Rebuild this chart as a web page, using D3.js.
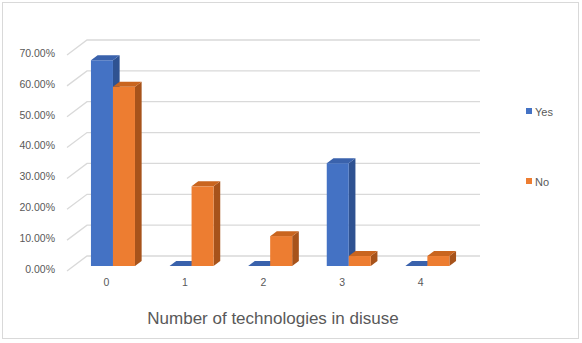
<!DOCTYPE html>
<html>
<head>
<meta charset="utf-8">
<script src="https://cdn.jsdelivr.net/npm/d3@7"></script>
<style>
  body { margin: 0; background: #fff; }
  text { font-family: "Liberation Sans", Arial, sans-serif; fill: #595959; }
  .axis .domain { display: none; }
  .axis .tick line { display: none; }
</style>
</head>
<body>
<div id="chart"></div>
<script>
var categories = ['0', '1', '2', '3', '4'];
var seriesNames = ['Yes', 'No'];
var yesValues = [0.6667, 0, 0, 0.3333, 0];
var noValues = [0.5806, 0.2581, 0.0968, 0.0323, 0.0323];
var yTicks = [0, 0.1, 0.2, 0.3, 0.4, 0.5, 0.6, 0.7];

var width = 582, height = 343;
var depthX = 20, depthY = 15;   // full floor depth
var colors = {
  Yes: { front: '#4472C4', top: '#3A62AC', side: '#2F5291' },
  No:  { front: '#ED7D31', top: '#C9651F', side: '#A7531B' }
};

var svg = d3.select('#chart').append('svg')
  .attr('width', width)
  .attr('height', height);

svg.append('rect')
  .attr('x', 2.5).attr('y', 2.5)
  .attr('width', 576).attr('height', 336)
  .attr('fill', '#fff')
  .attr('stroke', '#d9d9d9');

// front plane scales
var x = d3.scaleBand().domain(categories).range([67, 460])
  .paddingInner(0.44).paddingOuter(0.22);
var xs = d3.scaleBand().domain(seriesNames).range([0, x.bandwidth()]);
var y = d3.scaleLinear().domain([0, 0.7]).range([271, 55]);

function pt(px, v, d) {
  return [px + depthX * d, y(v) - depthY * d];
}

// gridlines on back wall + left diagonal
var grid = svg.append('g');
yTicks.forEach(function(t) {
  var a = pt(x.range()[0], t, 0), b = pt(x.range()[0], t, 1), c = pt(x.range()[1], t, 1);
  grid.append('path')
    .attr('d', 'M' + a + 'L' + b + 'L' + c)
    .attr('fill', 'none')
    .attr('stroke', '#d9d9d9')
    .attr('stroke-width', 1.3);
});

// y axis labels
svg.append('g')
  .attr('class', 'axis')
  .attr('transform', 'translate(57,-2)')
  .call(d3.axisLeft(y).tickValues(yTicks).tickSize(0).tickPadding(2)
    .tickFormat(d3.format('.2%')))
  .selectAll('text')
  .style('font-size', '10.5px')
  .attr('fill', '#595959');

// x axis labels
svg.append('g')
  .attr('class', 'axis')
  .attr('transform', 'translate(0,279)')
  .call(d3.axisBottom(x).tickSize(0).tickPadding(0))
  .selectAll('text')
  .style('font-size', '10.5px')
  .attr('fill', '#595959');

// bars
var rows = [];
categories.forEach(function(c, i) {
  rows.push({ cat: c, s: 'Yes', v: yesValues[i] });
  rows.push({ cat: c, s: 'No', v: noValues[i] });
});

var d0 = 1 / 3, d1 = 2 / 3;
var bars = svg.append('g').selectAll('g')
  .data(rows).enter()
  .append('g');

bars.each(function(d) {
  var g = d3.select(this);
  var x0 = x(d.cat) + xs(d.s), x1 = x0 + xs.bandwidth();
  var col = colors[d.s];
  var topPts = [pt(x0, d.v, d0), pt(x0, d.v, d1), pt(x1, d.v, d1), pt(x1, d.v, d0)];
  if (d.v > 0) {
    var sidePts = [pt(x1, d.v, d0), pt(x1, d.v, d1), pt(x1, 0, d1), pt(x1, 0, d0)];
    g.append('polygon').attr('points', sidePts.join(' ')).attr('fill', col.side);
    var f0 = pt(x0, d.v, d0), f1 = pt(x1, 0, d0);
    g.append('rect')
      .attr('x', f0[0]).attr('y', f0[1])
      .attr('width', f1[0] - f0[0]).attr('height', f1[1] - f0[1])
      .attr('fill', col.front);
  }
  g.append('polygon').attr('points', topPts.join(' ')).attr('fill', col.top);
});

// x axis title
svg.append('text')
  .attr('x', 273).attr('y', 318)
  .attr('text-anchor', 'middle')
  .attr('dominant-baseline', 'central')
  .style('font-size', '17px')
  .text('Number of technologies in disuse');

// legend
var legend = svg.append('g').selectAll('g')
  .data(seriesNames).enter()
  .append('g')
  .attr('transform', function(d, i) { return 'translate(526,' + (108 + i * 70) + ')'; });
legend.append('rect')
  .attr('width', 6).attr('height', 6)
  .attr('fill', function(d) { return colors[d].front; });
legend.append('text')
  .attr('x', 9).attr('y', 3.5)
  .attr('dominant-baseline', 'central')
  .style('font-size', '11px')
  .text(function(d) { return d; });
</script>
</body>
</html>
